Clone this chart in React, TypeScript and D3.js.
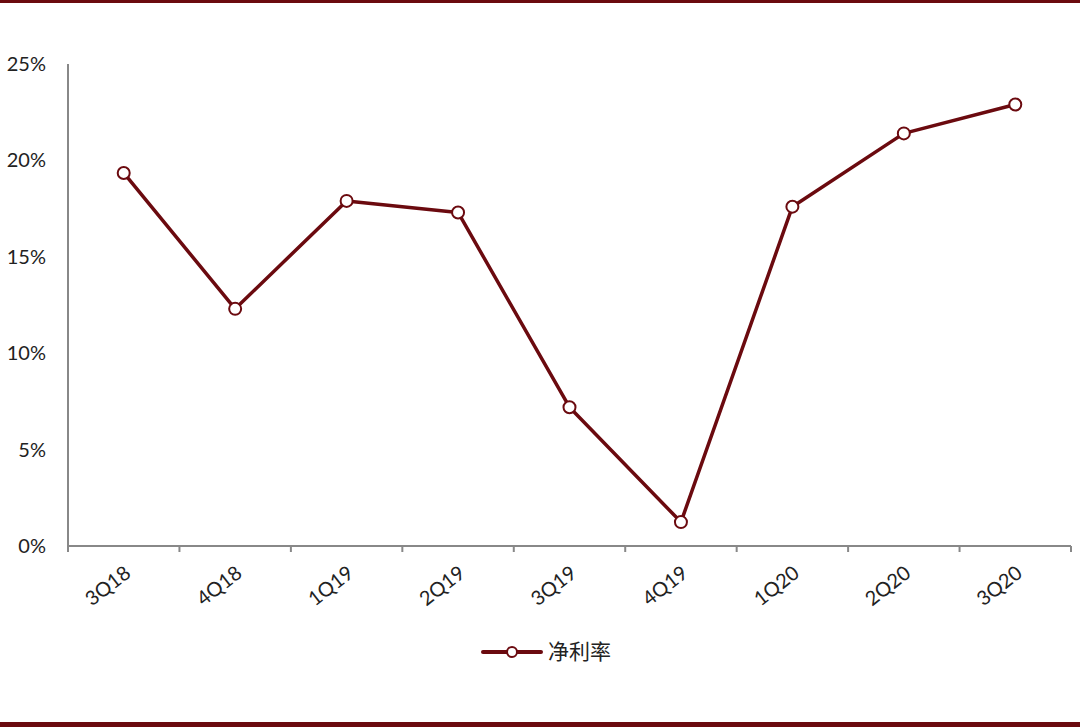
import React, { useEffect, useRef } from "react";
import * as d3 from "d3";

const categories = ["3Q18", "4Q18", "1Q19", "2Q19", "3Q19", "4Q19", "1Q20", "2Q20", "3Q20"];
const netMargin = [19.35, 12.3, 17.9, 17.3, 7.2, 1.24, 17.6, 21.4, 22.9];
const yTicks = [0, 5, 10, 15, 20, 25];
const seriesName = "净利率";

const W = 1080;
const H = 727;
const COLOR = "#6b0a0f";

export default function App() {
  const ref = useRef<SVGSVGElement>(null);
  useEffect(() => {
    const svg = d3.select(ref.current);
    svg.selectAll("*").remove();
    const left = 68, right = 1071, top = 64, bottom = 546;
    const x = d3.scaleBand<string>().domain(categories).range([left, right]);
    const y = d3.scaleLinear().domain([0, 25]).range([bottom, top]);

    svg.append("rect").attr("x", 0).attr("y", 0).attr("width", W).attr("height", 3).attr("fill", COLOR);
    svg.append("rect").attr("x", 0).attr("y", 722).attr("width", W).attr("height", 5).attr("fill", COLOR);

    const axisColor = "#888888";
    svg.append("line").attr("x1", left).attr("x2", left).attr("y1", top).attr("y2", bottom)
      .attr("stroke", axisColor).attr("stroke-width", 2);
    svg.selectAll(".ylab").data(yTicks).enter().append("text")
      .attr("x", 46).attr("y", (d) => y(d)).attr("dy", "0.35em")
      .attr("text-anchor", "end").attr("font-family", "Lato, 'Open Sans', sans-serif")
      .attr("font-size", 20).attr("fill", "#222").text((d) => d + "%");

    svg.append("line").attr("x1", left).attr("x2", right).attr("y1", bottom).attr("y2", bottom)
      .attr("stroke", axisColor).attr("stroke-width", 2);
    const tickXs = categories.map((c) => x(c)!).concat([right]);
    svg.selectAll(".xtick").data(tickXs).enter().append("line")
      .attr("x1", (d) => d).attr("x2", (d) => d).attr("y1", bottom).attr("y2", bottom + 6)
      .attr("stroke", axisColor).attr("stroke-width", 2);
    svg.selectAll(".xlab").data(categories).enter().append("text")
      .attr("transform", (d) => `translate(${x(d)! + x.bandwidth() / 2 + 4},${bottom + 24}) rotate(-38)`)
      .attr("text-anchor", "end").attr("dy", "0.35em")
      .attr("font-family", "Lato, 'Open Sans', sans-serif").attr("font-size", 20).attr("fill", "#222")
      .text((d) => d);

    const cx = (i: number) => x(categories[i])! + x.bandwidth() / 2;
    const line = d3.line<number>().x((_, i) => cx(i)).y((d) => y(d));
    svg.append("path").datum(netMargin).attr("d", line).attr("fill", "none")
      .attr("stroke", COLOR).attr("stroke-width", 3.5).attr("stroke-linejoin", "round");
    svg.selectAll(".pt").data(netMargin).enter().append("circle")
      .attr("cx", (_, i) => cx(i)).attr("cy", (d) => y(d)).attr("r", 6)
      .attr("fill", "#fff").attr("stroke", COLOR).attr("stroke-width", 2);

    const ly = 652;
    svg.append("line").attr("x1", 483).attr("x2", 541).attr("y1", ly).attr("y2", ly)
      .attr("stroke", COLOR).attr("stroke-width", 4).attr("stroke-linecap", "round");
    svg.append("circle").attr("cx", 512).attr("cy", ly).attr("r", 5)
      .attr("fill", "#fff").attr("stroke", COLOR).attr("stroke-width", 2);
    svg.append("text").attr("x", 548).attr("y", ly).attr("dy", "0.35em")
      .attr("font-family", "'Noto Sans CJK SC', sans-serif").attr("font-size", 21).attr("fill", "#222")
      .text(seriesName);
  }, []);
  return (
    <svg ref={ref} width={W} height={H} style={{ position: "absolute", left: 0, top: 0, background: "#fff" }} />
  );
}
